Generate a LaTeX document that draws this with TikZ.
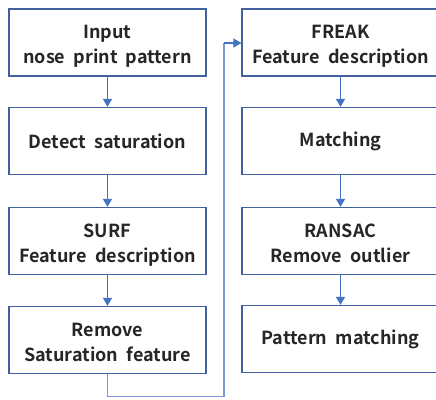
\documentclass[tikz,border=0pt]{standalone}
\usepackage{fontspec}
\setmainfont{Noto Sans CJK KR}[BoldFont={* Bold}, WordSpace=2]
\usetikzlibrary{arrows.meta}
\definecolor{boxline}{HTML}{41629E}
\definecolor{flow}{HTML}{4472C4}
\definecolor{looplink}{HTML}{7898D4}
% two-line box text, drawn a little below the box centre
\newcommand{\twolines}[2]{\raisebox{-4pt}[\height][\depth]{\begin{tabular}{@{}c@{}}#1\\[1pt]#2\end{tabular}}}
\tikzset{
  stepbox/.style={draw=boxline, line width=1.2pt, fill=white, minimum width=197pt,
    minimum height=67pt, align=center, font=\bfseries\fontsize{18}{24}\selectfont,
    text=black!85, inner sep=0pt},
  flowarrow/.style={draw=flow, line width=1.1pt, -{Triangle[length=8pt,width=9pt]}},
}
\begin{document}
\begin{tikzpicture}[x=1pt,y=-1pt]
  \useasboundingbox (0,0) rectangle (436,399);
  \clip (0,0) rectangle (436,399);
  % left column
  \node[stepbox] (input)  at (107.5,42.5)  {\twolines{Input}{nose print pattern}};
  \node[stepbox] (detect) at (107.5,141)   {Detect saturation};
  \node[stepbox] (surf)   at (107.5,241)   {\twolines{SURF}{Feature description}};
  \node[stepbox] (remove) at (107.5,340)   {\twolines{Remove}{Saturation feature}};
  % right column
  \node[stepbox] (freak)  at (340.5,42.5)  {\twolines{FREAK}{Feature description}};
  \node[stepbox] (match)  at (340.5,141)   {Matching};
  \node[stepbox] (ransac) at (340.5,241)   {\twolines{RANSAC}{Remove outlier}};
  \node[stepbox] (patt)   at (340.5,339)   {Pattern matching};
  % vertical flow
  \draw[flowarrow] (input) -- (detect);
  \draw[flowarrow] (detect) -- (surf);
  \draw[flowarrow] (surf) -- (remove);
  \draw[flowarrow] (freak) -- (match);
  \draw[flowarrow] (match) -- (ransac);
  \draw[flowarrow] (ransac) -- (patt);
  % link from the left column to the right column
  \coordinate (c1) at (remove.south |- 0,396.5);
  \coordinate (c2) at (224,396.5);
  \coordinate (c3) at (224,43);
  \draw[draw=looplink, line width=1.3pt] (remove.south) -- (c1) -- (c2) -- (c3);
  \draw[flowarrow] (c3) -- (c3 -| freak.west);
\end{tikzpicture}
\end{document}
